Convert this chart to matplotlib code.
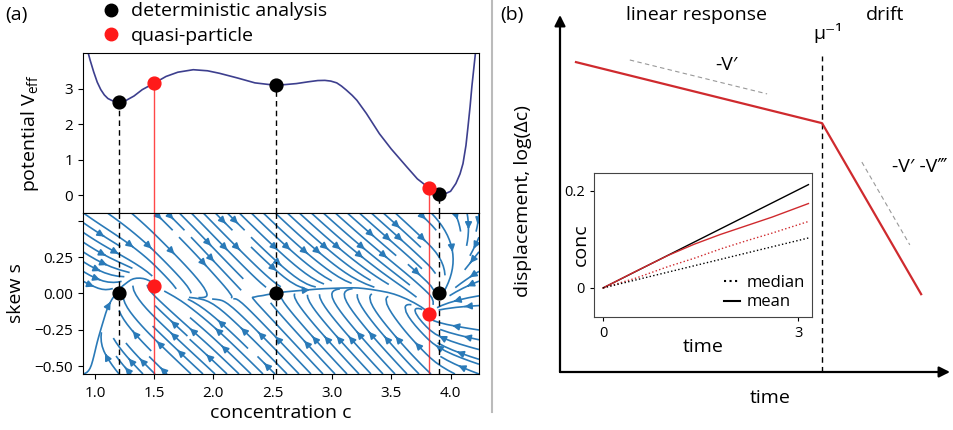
import numpy as np
import matplotlib.pyplot as plt
from matplotlib.lines import Line2D

plt.rcParams['font.family'] = ['Open Sans', 'DejaVu Sans']
plt.rcParams['mathtext.default'] = 'regular'
plt.rcParams['font.size'] = 14

# effective potential V_eff(c)
conc = [0.90, 0.944, 0.96, 0.99, 1.02, 1.05, 1.08, 1.11, 1.14, 1.17, 1.205,
        1.26, 1.33, 1.40, 1.50, 1.60, 1.70, 1.83, 1.95, 2.05, 2.20, 2.35,
        2.53, 2.70, 2.80, 2.88, 2.94, 2.99, 3.04, 3.08, 3.12, 3.17, 3.21, 3.29,
        3.40, 3.50, 3.63, 3.72, 3.82, 3.90, 3.96, 4.00, 4.045, 4.08, 4.105,
        4.13, 4.147, 4.165, 4.18, 4.21, 4.25]
v_eff = [4.7, 4.0, 3.8, 3.47, 3.18, 2.97, 2.82, 2.72, 2.67, 2.635, 2.62,
         2.66, 2.79, 2.97, 3.15, 3.34, 3.46, 3.53, 3.50, 3.43, 3.30, 3.16,
         3.09, 3.14, 3.19, 3.225, 3.23, 3.21, 3.16, 3.07, 2.96, 2.81, 2.67,
         2.30, 1.73, 1.30, 0.80, 0.46, 0.20, 0.03, 0.05, 0.11, 0.33, 0.60, 0.89,
         1.40, 1.92, 2.50, 3.06, 4.0, 5.3]

# fixed points
det_c = [1.205, 2.53, 3.90]
det_v = [2.62, 3.09, 0.03]
det_s = [0.0, 0.0, 0.0]
qp_c = [1.50, 3.82]
qp_v = [3.15, 0.20]
qp_s = [0.05, -0.14]

# slow manifold in the (c, s) plane and the drift along it
man_c = [0.90, 1.00, 1.10, 1.20, 1.30, 1.40, 1.50, 1.72, 2.05, 2.30, 2.56,
         2.90, 3.18, 3.46, 3.66, 3.82, 4.00, 4.25]
man_s = [-0.50, -0.15, 0.04, 0.10, 0.12, 0.10, 0.05, -0.02, -0.04, -0.03,
         0.01, 0.035, 0.04, 0.0, -0.08, -0.14, -0.14, -0.12]
drift_c = [0.90, 1.10, 1.30, 1.50, 1.90, 2.30, 2.80, 3.30, 3.60, 3.82, 4.00,
           4.25]
drift_u = [1.2, 0.6, 0.2, 0.0, -0.08, 0.0, 0.12, 0.15, 0.12, 0.0, -1.0, -2.2]

# panel (b) sketch
sketch_t = [0.041, 0.672, 0.926]
sketch_y = [0.868, 0.697, 0.218]
mu_inv = 0.672

# inset: mean / median concentration vs time
t_mean = [0, 3.16]
black_mean = [0, 0.213]
t_red = [0, 0.5, 1.0, 1.4, 1.8, 2.2, 2.6, 3.16]
red_mean = [0, 0.034, 0.067, 0.090, 0.110, 0.128, 0.146, 0.174]
red_median = [0, 0.020, 0.044, 0.061, 0.080, 0.097, 0.113, 0.137]
black_median = [0, 0.103]

navy = '#3d3f8e'
stream_col = '#2a7ab8'
red = '#ff1a1a'
dark_red = '#cf2a2e'

fig = plt.figure(figsize=(9.54, 4.30), dpi=100)

L, R = 83 / 954, 479 / 954
ax_v = fig.add_axes([L, 1 - 213 / 430, R - L, 160 / 430])
ax_s = fig.add_axes([L, 1 - 374 / 430, R - L, 161 / 430], sharex=ax_v)

xlim = (0.90, 4.24)
ax_v.plot(conc, v_eff, color=navy, lw=1.2, zorder=2)
ax_v.set_xlim(*xlim)
ax_v.set_ylim(-0.5, 4.0)
ax_v.set_yticks([0, 1, 2, 3])
ax_v.tick_params(axis='x', bottom=False, labelbottom=False)
ax_v.tick_params(labelsize=11)
ax_v.set_ylabel('potential V$_{eff}$', labelpad=17)
for c, v in zip(det_c, det_v):
    ax_v.plot([c, c], [-0.5, v], color='k', ls=(0, (4, 3)), lw=1, zorder=1)
for c, v in zip(qp_c, qp_v):
    ax_v.plot([c, c], [-0.5, v], color=red, lw=1, alpha=0.8, zorder=1)
ax_v.scatter(det_c, det_v, s=85, color='k', zorder=4)
ax_v.scatter(qp_c, qp_v, s=85, color=red, zorder=4)

# flow in the (c, s) plane: relaxation onto the manifold plus drift
cg = np.linspace(xlim[0], xlim[1], 120)
sg = np.linspace(-0.555, 0.555, 120)
C, S = np.meshgrid(cg, sg)
G = np.interp(C, man_c, man_s)
D = np.interp(C, drift_c, drift_u)
U = 3.0 * (S - G) + D
W = -2.4 * (S - G)
ax_s.streamplot(C, S, U, W, density=1.15, color=stream_col, linewidth=1.2,
                arrowsize=1.0, zorder=1)
for c in det_c:
    ax_s.axvline(c, color='k', ls=(0, (4, 3)), lw=1, zorder=2)
for c in qp_c:
    ax_s.axvline(c, color=red, lw=1, alpha=0.8, zorder=2)
ax_s.scatter(det_c, det_s, s=85, color='k', zorder=4)
ax_s.scatter(qp_c, qp_s, s=85, color=red, zorder=4)
ax_s.set_ylim(-0.555, 0.553)
ax_s.set_yticks([-0.5, -0.25, 0, 0.25, 0.5])
ax_s.set_yticklabels(['\u22120.50', '\u22120.25', '0.00', '0.25', ''])
ax_s.set_xticks([1.0, 1.5, 2.0, 2.5, 3.0, 3.5, 4.0])
ax_s.tick_params(labelsize=11)
ax_s.tick_params(axis='x', pad=5)
ax_s.set_ylabel('skew s', labelpad=7)
ax_s.set_xlabel('concentration c', labelpad=2)

handles = [Line2D([], [], ls='', marker='o', ms=9, color='k'),
           Line2D([], [], ls='', marker='o', ms=9, color=red)]
fig.legend(handles, ['deterministic analysis', 'quasi-particle'],
           loc='upper left', bbox_to_anchor=(82 / 954, 1.035), frameon=False,
           handletextpad=0.4, labelspacing=0.35, handlelength=1.2,
           fontsize=14)

fig.text(16 / 954, 1 - 15 / 430, '(a)', ha='center', va='center')
fig.text(512 / 954, 1 - 15 / 430, '(b)', ha='center', va='center')
fig.add_artist(Line2D([492 / 954, 492 / 954], [1 - 412 / 430, 1.0],
                      color='#bbbbbb', lw=1.5))

# panel (b)
ax_b = fig.add_axes([560 / 954, 1 - 372 / 430, 390 / 954, 357 / 430])
ax_b.set_xlim(0, 1)
ax_b.set_ylim(0, 1)
ax_b.axis('off')
arrow = dict(arrowstyle='-|>', lw=1.6, color='k', mutation_scale=16,
             shrinkA=0, shrinkB=0)
ax_b.annotate('', xy=(1.0, 0), xytext=(0, 0), arrowprops=arrow,
              annotation_clip=False)
ax_b.annotate('', xy=(0, 1.0), xytext=(0, 0), arrowprops=arrow,
              annotation_clip=False)
ax_b.plot([mu_inv, mu_inv], [0, 0.885], color='k', ls=(0, (4, 3)), lw=1)
ax_b.plot(sketch_t, sketch_y, color=dark_red, lw=1.6)
ax_b.plot([0.179, 0.531], [0.874, 0.779], color='#999999', lw=0.8,
          ls=(0, (4, 3)))
ax_b.plot([0.774, 0.897], [0.588, 0.356], color='#999999', lw=0.8,
          ls=(0, (4, 3)))
ax_b.text(0.428, 0.86, '-V\u2032', ha='center', va='center')
ax_b.text(0.851, 0.574, '-V\u2032 -V\u2034', ha='left', va='center')
ax_b.text(0.687, 0.95, '\u03bc\u207b\u00b9', ha='center', va='center')
ax_b.text(0.351, 1.0, 'linear response', ha='center', va='center')
ax_b.text(0.833, 1.0, 'drift', ha='center', va='center')
ax_b.text(-0.095, 0.48, 'displacement, log(\u0394c)', rotation=90,
          ha='center', va='center')
ax_b.text(0.538, -0.073, 'time', ha='center', va='center')

ax_in = fig.add_axes([594 / 954, 1 - 317 / 430, 218 / 954, 144 / 430])
ax_in.plot(t_mean, black_mean, color='k', lw=1)
ax_in.plot(t_red, red_mean, color=dark_red, lw=1)
ax_in.plot(t_red, red_median, color=dark_red, lw=1, ls=':')
ax_in.plot(t_mean, black_median, color='k', lw=1, ls=':')
ax_in.set_xlim(-0.14, 3.215)
ax_in.set_ylim(-0.06, 0.237)
ax_in.set_xticks([0, 3])
ax_in.set_yticks([0, 0.2])
ax_in.set_xticklabels(['0', '3'])
ax_in.set_yticklabels(['0', '0.2'])
ax_in.tick_params(labelsize=10.5, length=3)
for sp in ax_in.spines.values():
    sp.set_color('#444444')
ax_in.set_xlabel('time', labelpad=-2)
ax_in.yaxis.set_label_coords(-0.02, 0.5)
ax_in.set_ylabel('conc')
leg_h = [Line2D([], [], color='k', ls=':', lw=1.5),
         Line2D([], [], color='k', lw=1.5)]
ax_in.legend(leg_h, ['median', 'mean'], loc='lower right', frameon=False,
             fontsize=12, handlelength=1.0, handletextpad=0.4,
             labelspacing=0.2, borderaxespad=0.0)

fig.savefig('out.png', dpi=100)
